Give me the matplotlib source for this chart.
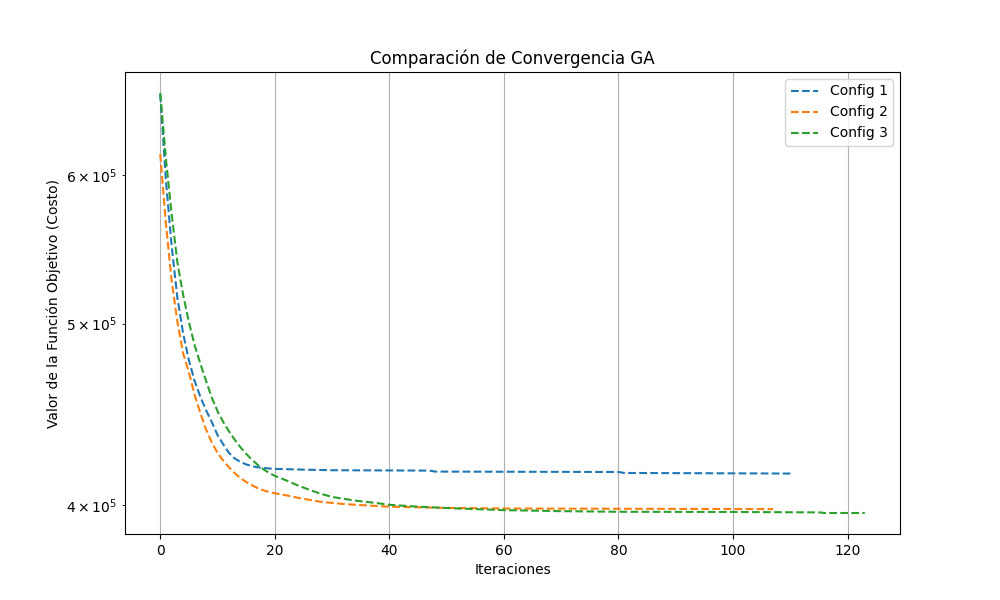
import matplotlib
matplotlib.use('Agg')
import matplotlib.pyplot as plt

# valores (costo en miles)
iter1 = list(range(0, 21)) + [25, 30, 47, 48, 80, 81, 110]
cost1 = [663, 596, 550, 516, 494, 478, 466, 457, 449.5, 443, 436, 431,
         426.5, 423.6, 421.8, 420.5, 419.6, 419, 418.7, 418.4, 418.2,
         417.8, 417.5, 417.3, 416.8, 416.6, 416.1, 415.8]

iter2 = list(range(0, 21)) + [22, 24, 25, 28, 32, 36, 40, 45, 50, 60, 107]
cost2 = [616, 565, 527, 501, 482, 471, 458, 448, 439, 432, 426.5, 422.5,
         419, 416, 413.5, 411.5, 409.9, 408.4, 407.3, 406.5, 405.8,
         404.8, 403.6, 403.1, 401.6, 400.5, 399.8, 399.2, 398.9, 398.6,
         398.3, 398.0]

iter3 = list(range(0, 23)) + [24, 26, 28, 30, 34, 38, 40, 45, 51, 60, 70,
                              80, 100, 115, 116, 123]
cost3 = [664, 612, 572, 539, 518, 501, 487, 476, 466, 456.5, 449, 443,
         438, 433.5, 429.5, 426, 423, 420.3, 418, 416.2, 414.6, 413.5,
         412.3, 409.8, 407.6, 405.6, 404, 402.2, 400.9, 400.1, 399.2, 398.4,
         397.5, 397, 396.7, 396.6, 396.4, 396.1, 396.1]

plt.figure(figsize=(10, 6))
plt.plot(iter1, [c * 1000 for c in cost1], '--', label='Config 1')
plt.plot(iter2, [c * 1000 for c in cost2], '--', label='Config 2')
plt.plot(iter3, [c * 1000 for c in cost3], '--', label='Config 3')
plt.yscale('log')
plt.title('Comparación de Convergencia GA')
plt.xlabel('Iteraciones')
plt.ylabel('Valor de la Función Objetivo (Costo)')
plt.legend()
plt.grid(True)
plt.savefig('out.png', dpi=100)
